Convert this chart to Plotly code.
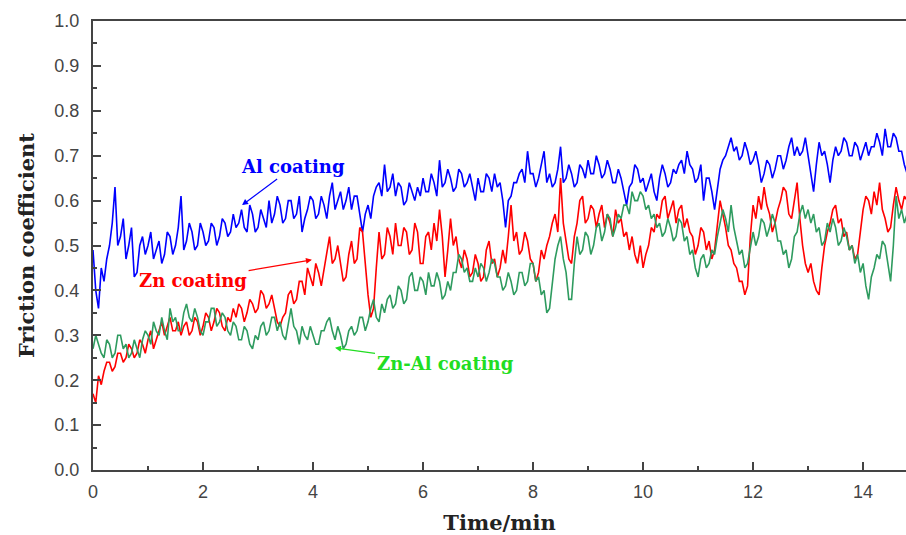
import numpy as np
import plotly.graph_objects as go

# sampling times (min), every 0.05 min
time_min = np.round(np.arange(0, 14.801, 0.05), 2)

al_coating = [
    0.49, 0.40, 0.36, 0.45, 0.42, 0.47, 0.50, 0.55, 0.63, 0.50,
    0.52, 0.56, 0.47, 0.50, 0.54, 0.43, 0.44, 0.50, 0.52, 0.48,
    0.50, 0.53, 0.47, 0.49, 0.51, 0.46, 0.48, 0.53, 0.52, 0.48,
    0.50, 0.54, 0.61, 0.49, 0.51, 0.55, 0.53, 0.49, 0.50, 0.55,
    0.53, 0.50, 0.51, 0.55, 0.54, 0.50, 0.52, 0.56, 0.55, 0.52,
    0.53, 0.57, 0.54, 0.55, 0.58, 0.54, 0.53, 0.59, 0.57, 0.53,
    0.54, 0.58, 0.56, 0.54, 0.60, 0.55, 0.57, 0.61, 0.59, 0.55,
    0.56, 0.60, 0.60, 0.56, 0.57, 0.61, 0.53, 0.56, 0.58, 0.61,
    0.60, 0.56, 0.57, 0.61, 0.59, 0.56, 0.61, 0.64, 0.58, 0.60,
    0.62, 0.58, 0.60, 0.63, 0.58, 0.61, 0.61, 0.57, 0.53, 0.57,
    0.59, 0.56, 0.61, 0.63, 0.64, 0.61, 0.68, 0.62, 0.63, 0.66,
    0.61, 0.64, 0.63, 0.59, 0.60, 0.64, 0.62, 0.60, 0.63, 0.61,
    0.65, 0.62, 0.62, 0.66, 0.64, 0.61, 0.69, 0.63, 0.64, 0.67,
    0.65, 0.62, 0.63, 0.67, 0.66, 0.63, 0.64, 0.66, 0.63, 0.60,
    0.65, 0.62, 0.62, 0.66, 0.65, 0.62, 0.66, 0.63, 0.64, 0.60,
    0.54, 0.60, 0.61, 0.64, 0.64, 0.66, 0.67, 0.64, 0.71, 0.66,
    0.66, 0.63, 0.65, 0.68, 0.71, 0.64, 0.66, 0.63, 0.64, 0.67,
    0.72, 0.64, 0.65, 0.68, 0.66, 0.63, 0.64, 0.68, 0.67, 0.65,
    0.69, 0.66, 0.66, 0.70, 0.68, 0.65, 0.66, 0.69, 0.67, 0.64,
    0.64, 0.67, 0.65, 0.62, 0.59, 0.63, 0.64, 0.68, 0.67, 0.64,
    0.65, 0.62, 0.64, 0.66, 0.62, 0.60, 0.65, 0.68, 0.66, 0.63,
    0.64, 0.67, 0.66, 0.68, 0.69, 0.66, 0.71, 0.68, 0.67, 0.64,
    0.65, 0.68, 0.60, 0.65, 0.65, 0.62, 0.58, 0.63, 0.67, 0.69,
    0.70, 0.72, 0.74, 0.71, 0.72, 0.69, 0.70, 0.73, 0.71, 0.68,
    0.69, 0.71, 0.68, 0.64, 0.66, 0.69, 0.68, 0.65, 0.67, 0.70,
    0.70, 0.67, 0.69, 0.72, 0.74, 0.70, 0.72, 0.70, 0.71, 0.74,
    0.70, 0.66, 0.62, 0.68, 0.73, 0.70, 0.71, 0.68, 0.64, 0.69,
    0.72, 0.70, 0.71, 0.74, 0.73, 0.70, 0.70, 0.73, 0.72, 0.69,
    0.71, 0.73, 0.70, 0.72, 0.72, 0.75, 0.73, 0.70, 0.76, 0.72,
    0.72, 0.75, 0.74, 0.71, 0.71, 0.68, 0.66,
]

zn_coating = [
    0.17, 0.15, 0.21, 0.19, 0.22, 0.24, 0.24, 0.22, 0.23, 0.26,
    0.26, 0.24, 0.25, 0.28, 0.27, 0.25, 0.26, 0.29, 0.28, 0.26,
    0.29, 0.31, 0.27, 0.29, 0.31, 0.33, 0.30, 0.32, 0.34, 0.31,
    0.31, 0.33, 0.30, 0.32, 0.33, 0.30, 0.31, 0.34, 0.33, 0.30,
    0.32, 0.35, 0.34, 0.31, 0.33, 0.36, 0.35, 0.32, 0.31, 0.34,
    0.33, 0.36, 0.34, 0.37, 0.36, 0.33, 0.35, 0.38, 0.37, 0.35,
    0.36, 0.40, 0.39, 0.36, 0.37, 0.39, 0.36, 0.33, 0.32, 0.34,
    0.35, 0.39, 0.40, 0.37, 0.38, 0.42, 0.42, 0.39, 0.45, 0.43,
    0.41, 0.46, 0.44, 0.41, 0.45, 0.48, 0.52, 0.46, 0.47, 0.50,
    0.46, 0.42, 0.43, 0.48, 0.51, 0.46, 0.47, 0.54, 0.53, 0.45,
    0.39, 0.34, 0.36, 0.45, 0.53, 0.47, 0.48, 0.54, 0.52, 0.48,
    0.55, 0.50, 0.50, 0.54, 0.53, 0.48, 0.49, 0.55, 0.53, 0.46,
    0.46, 0.52, 0.53, 0.49, 0.55, 0.51, 0.58, 0.52, 0.43, 0.49,
    0.56, 0.50, 0.52, 0.47, 0.45, 0.49, 0.47, 0.43, 0.44, 0.48,
    0.46, 0.42, 0.43, 0.49, 0.51, 0.46, 0.47, 0.43, 0.45, 0.49,
    0.46, 0.52, 0.59, 0.51, 0.53, 0.48, 0.49, 0.53, 0.51, 0.47,
    0.46, 0.42, 0.44, 0.49, 0.47, 0.50, 0.52, 0.55, 0.57, 0.53,
    0.65, 0.55, 0.51, 0.47, 0.46, 0.52, 0.55, 0.60, 0.61, 0.55,
    0.56, 0.59, 0.58, 0.54, 0.57, 0.59, 0.54, 0.57, 0.55, 0.52,
    0.58, 0.55, 0.56, 0.52, 0.53, 0.49, 0.52, 0.48, 0.46, 0.50,
    0.45, 0.48, 0.50, 0.54, 0.53, 0.57, 0.56, 0.60, 0.61, 0.56,
    0.58, 0.60, 0.55, 0.58, 0.59, 0.54, 0.56, 0.53, 0.52, 0.48,
    0.50, 0.54, 0.53, 0.49, 0.51, 0.47, 0.49, 0.55, 0.60, 0.57,
    0.54, 0.50, 0.49, 0.46, 0.45, 0.42, 0.42, 0.39, 0.41, 0.52,
    0.59, 0.56, 0.61, 0.58, 0.63, 0.59, 0.57, 0.53, 0.55, 0.58,
    0.60, 0.63, 0.62, 0.57, 0.56, 0.60, 0.64, 0.56, 0.50, 0.46,
    0.44, 0.46, 0.42, 0.40, 0.39, 0.45, 0.50, 0.53, 0.55, 0.58,
    0.59, 0.55, 0.56, 0.52, 0.53, 0.49, 0.50, 0.47, 0.48, 0.53,
    0.58, 0.61, 0.60, 0.57, 0.62, 0.59, 0.64, 0.58, 0.56, 0.53,
    0.54, 0.59, 0.63, 0.60, 0.58, 0.61, 0.60,
]

znal_coating = [
    0.27, 0.30, 0.28, 0.26, 0.25, 0.29, 0.28, 0.25, 0.26, 0.30,
    0.30, 0.27, 0.28, 0.25, 0.26, 0.29, 0.27, 0.25, 0.29, 0.31,
    0.30, 0.28, 0.33, 0.31, 0.30, 0.34, 0.31, 0.29, 0.36, 0.33,
    0.34, 0.31, 0.31, 0.35, 0.37, 0.34, 0.33, 0.36, 0.34, 0.31,
    0.30, 0.33, 0.33, 0.36, 0.36, 0.32, 0.33, 0.35, 0.34, 0.31,
    0.30, 0.33, 0.32, 0.29, 0.29, 0.32, 0.31, 0.28, 0.27, 0.30,
    0.29, 0.32, 0.33, 0.30, 0.31, 0.34, 0.34, 0.31, 0.33, 0.30,
    0.29, 0.33, 0.36, 0.32, 0.31, 0.28, 0.32, 0.30, 0.29, 0.32,
    0.30, 0.28, 0.28, 0.31, 0.31, 0.33, 0.34, 0.31, 0.29, 0.32,
    0.30, 0.27, 0.28, 0.31, 0.32, 0.30, 0.31, 0.34, 0.34, 0.31,
    0.33, 0.36, 0.38, 0.34, 0.33, 0.37, 0.35, 0.38, 0.39, 0.36,
    0.37, 0.41, 0.40, 0.37, 0.38, 0.43, 0.44, 0.40, 0.40, 0.43,
    0.42, 0.39, 0.44, 0.41, 0.41, 0.44, 0.42, 0.38, 0.39, 0.42,
    0.40, 0.44, 0.44, 0.48, 0.47, 0.44, 0.45, 0.42, 0.42, 0.45,
    0.43, 0.46, 0.45, 0.42, 0.44, 0.47, 0.46, 0.43, 0.43, 0.40,
    0.41, 0.44, 0.42, 0.39, 0.40, 0.44, 0.44, 0.41, 0.42, 0.46,
    0.46, 0.42, 0.43, 0.39, 0.40, 0.35, 0.36, 0.42, 0.47, 0.50,
    0.52, 0.47, 0.44, 0.38, 0.38, 0.46, 0.52, 0.48, 0.49, 0.53,
    0.52, 0.48, 0.50, 0.54, 0.55, 0.51, 0.53, 0.57, 0.56, 0.52,
    0.54, 0.57, 0.56, 0.59, 0.59, 0.57, 0.62, 0.60, 0.60, 0.62,
    0.61, 0.58, 0.59, 0.56, 0.57, 0.54, 0.55, 0.52, 0.53, 0.56,
    0.54, 0.51, 0.52, 0.56, 0.55, 0.51, 0.52, 0.48, 0.49, 0.45,
    0.43, 0.47, 0.48, 0.45, 0.46, 0.49, 0.48, 0.52, 0.55, 0.58,
    0.56, 0.53, 0.59, 0.54, 0.51, 0.48, 0.49, 0.45, 0.46, 0.50,
    0.53, 0.50, 0.52, 0.56, 0.55, 0.52, 0.54, 0.57, 0.55, 0.51,
    0.51, 0.48, 0.49, 0.45, 0.47, 0.52, 0.53, 0.57, 0.59, 0.56,
    0.58, 0.55, 0.57, 0.53, 0.54, 0.50, 0.51, 0.55, 0.53, 0.56,
    0.54, 0.50, 0.51, 0.54, 0.52, 0.49, 0.50, 0.46, 0.48, 0.44,
    0.46, 0.41, 0.38, 0.43, 0.45, 0.48, 0.47, 0.51, 0.50, 0.46,
    0.42, 0.50, 0.61, 0.56, 0.58, 0.55, 0.57,
]

x_ticks = [0, 2, 4, 6, 8, 10, 12, 14]
y_ticks = [0.0, 0.1, 0.2, 0.3, 0.4, 0.5, 0.6, 0.7, 0.8, 0.9, 1.0]

BLUE = "#0000ff"
RED = "#ff0000"
GREEN = "#2e9b5f"
LABEL_GREEN = "#22dd22"

fig = go.Figure()
for vals, col, nm in [(al_coating, BLUE, "Al coating"),
                      (zn_coating, RED, "Zn coating"),
                      (znal_coating, GREEN, "Zn-Al coating")]:
    fig.add_trace(go.Scatter(x=time_min[:len(vals)], y=vals, mode="lines",
                             line=dict(color=col, width=1.6), name=nm))

serif = "DejaVu Serif"
axis_color = "#444444"
tick_font = dict(family="Liberation Sans, Arial", size=18, color="#444444")

fig.update_layout(
    width=906, height=535,
    margin=dict(l=93, r=0, t=21, b=65),
    paper_bgcolor="white", plot_bgcolor="white",
    showlegend=False,
    xaxis=dict(
        range=[0, 14.78], tickvals=x_ticks, ticktext=[str(v) for v in x_ticks],
        ticks="inside", ticklen=8, tickwidth=1.5, tickcolor=axis_color,
        minor=dict(ticks="inside", ticklen=4, tickwidth=1.5, dtick=1, tickcolor=axis_color),
        showline=True, linecolor=axis_color, linewidth=2, mirror=True,
        showgrid=False, zeroline=False, tickfont=tick_font, ticklabelstandoff=4,
        title=dict(text="<b>Time/min</b>", font=dict(family=serif, size=21, color="#222222"),
                   standoff=16),
    ),
    yaxis=dict(
        range=[0, 1.0], tickvals=y_ticks, ticktext=[f"{v:.1f}" for v in y_ticks],
        ticks="inside", ticklen=8, tickwidth=1.5, tickcolor=axis_color,
        minor=dict(ticks="inside", ticklen=4, tickwidth=1.5, dtick=0.05, tickcolor=axis_color),
        showline=True, linecolor=axis_color, linewidth=2, mirror=False,
        showgrid=False, zeroline=False, tickfont=tick_font, ticklabelstandoff=8,
        title=dict(text="<b>Friction coefficient</b>", font=dict(family=serif, size=21, color="#222222"),
                   standoff=14),
    ),
)

ann_font = dict(family=serif, size=18)
fig.add_annotation(x=2.71, y=0.59, ax=3.64, ay=0.675, axref="x", ayref="y",
                   text="<b>Al coating</b>", font=dict(color=BLUE, **ann_font),
                   showarrow=True, arrowhead=2, arrowsize=1, arrowwidth=1.2, arrowcolor=BLUE)
fig.add_annotation(x=3.98, y=0.468, ax=1.82, ay=0.423, axref="x", ayref="y",
                   text="<b>Zn coating</b>", font=dict(color=RED, **ann_font),
                   showarrow=True, arrowhead=2, arrowsize=1, arrowwidth=1.2, arrowcolor=RED)
fig.add_annotation(x=4.4, y=0.272, ax=6.4, ay=0.238, axref="x", ayref="y",
                   text="<b>Zn-Al coating</b>", font=dict(color=LABEL_GREEN, **ann_font),
                   showarrow=True, arrowhead=2, arrowsize=1, arrowwidth=1.2, arrowcolor=LABEL_GREEN)

# remove the default page margin so the 906x535 figure fills the window exactly
fig.write_html("out.html", config={"displayModeBar": False},
               post_script="document.body.style.margin='0';document.body.style.overflow='hidden';")
